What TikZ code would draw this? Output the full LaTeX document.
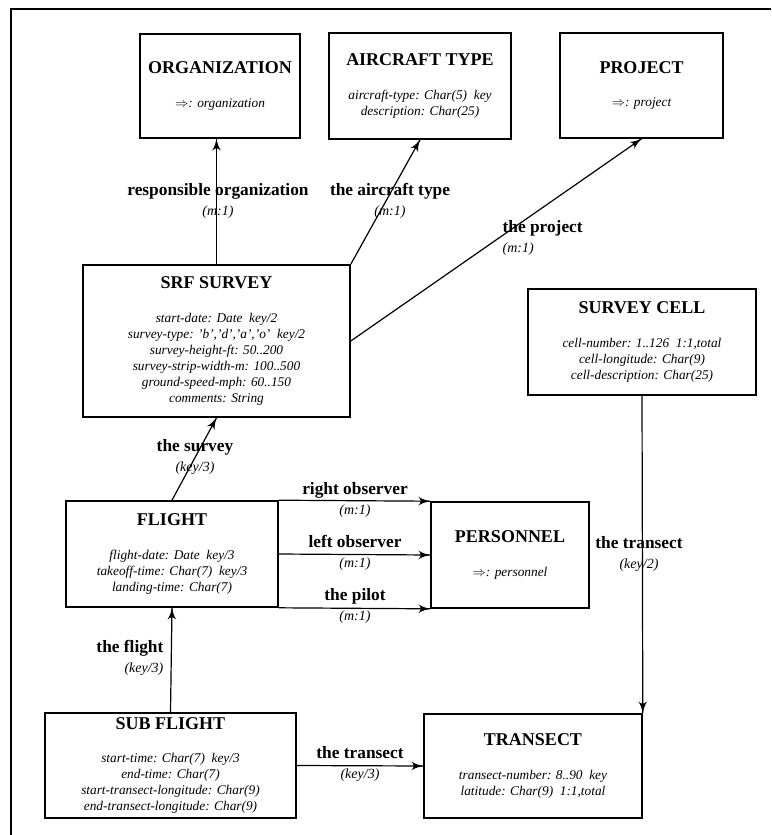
\documentclass[tikz,border=0pt]{standalone}
\usepackage{fontspec}
\setmainfont{Liberation Serif}
\usepackage{amssymb}
\usepackage{tikz}
\usetikzlibrary{arrows}
\usetikzlibrary{decorations.markings}
\newcommand{\enttitle}{\fontsize{13.5}{15}\selectfont\bfseries\upshape}
\newcommand{\entattr}{\fontsize{10}{12}\selectfont\itshape}
\newcommand{\rellabel}{\fontsize{13}{15}\selectfont\bfseries}
\newcommand{\relcard}{\fontsize{10.5}{12}\selectfont\itshape\mdseries}
\tikzset{->/.style = {decoration={markings,
                                  mark=at position 1 with {\arrow[scale=1.6]{latex'}}},
                      postaction={decorate}}}
\tikzset{entity/.style = {draw, line width=1.2pt, align=center, inner sep=0, font=\entattr}}
\tikzset{rel/.style = {align=center, inner sep=0, font=\rellabel}}

\begin{document}
\begin{tikzpicture}[x=0.75pt, y=-0.75pt, line width=0.9pt]
      \useasboundingbox (0, 0) rectangle (771, 835);
      \draw [line width=1.5pt] (771, 9) -- (11, 9) -- (11, 835);
      \node [entity, minimum width=120pt, minimum height=78pt] (org) at (220, 86) {{\enttitle ORGANIZATION}\\[13pt]$\Rightarrow$: organization};
      \node [entity, minimum width=136.5pt, minimum height=79.5pt] (air) at (420, 86) {{\enttitle AIRCRAFT TYPE}\\[13pt]aircraft-type: Char(5)~~key\\description: Char(25)};
      \node [entity, minimum width=122.25pt, minimum height=78.75pt] (proj) at (641.5, 85.5) {{\enttitle PROJECT}\\[13pt]$\Rightarrow$: project};
      \node [entity, minimum width=200.25pt, minimum height=114pt] (srf) at (216.5, 341) {{\enttitle SRF SURVEY}\\[13pt]start-date: Date~~key/2\\survey-type: 'b','d','a','o'~~key/2\\survey-height-ft: 50..200\\survey-strip-width-m: 100..500\\ground-speed-mph: 60..150\\comments: String};
      \node [entity, minimum width=171pt, minimum height=79.5pt] (cell) at (642, 342) {{\enttitle SURVEY CELL}\\[13pt]cell-number: 1..126~~1:1,total\\cell-longitude: Char(9)\\cell-description: Char(25)};
      \node [entity, minimum width=159pt, minimum height=79.5pt] (flight) at (172, 554) {{\enttitle FLIGHT}\\[13pt]flight-date: Date~~key/3\\takeoff-time: Char(7)~~key/3\\landing-time: Char(7)};
      \node [entity, minimum width=118.5pt, minimum height=79.5pt] (pers) at (510, 555) {{\enttitle PERSONNEL}\\[13pt]$\Rightarrow$: personnel};
      \node [entity, minimum width=188.25pt, minimum height=78.75pt] (sub) at (170.5, 765.5) {{\enttitle SUB FLIGHT}\\[13pt]start-time: Char(7)~~key/3\\end-time: Char(7)\\start-transect-longitude: Char(9)\\end-transect-longitude: Char(9)};
      \node [entity, minimum width=163.5pt, minimum height=78pt] (tran) at (533, 766) {{\enttitle TRANSECT}\\[13pt]transect-number: 8..90~~key\\latitude: Char(9)~~1:1,total};
      % relationships
      \draw [->] (srf.north) -- (srf.north |- org.south);
      \draw [->] (srf.north east) -- (air.south);
      \draw [->] (srf.east) -- (proj.south);
      \draw [->] (flight.north) -- (srf.south);
      \draw [->] (flight.north east) -- (pers.north west);
      \draw [->] (flight.east) -- (pers.west);
      \draw [->] (flight.south east) -- (pers.south west);
      \draw [->] (sub.north) -- (flight.south);
      \draw [->] (sub.east) -- (tran.west);
      \draw [->] (cell.south) -- (tran.north east);
      \node [rel] (l1) at (218, 201) {responsible organization\\{\relcard (m:1)}};
      \node [rel] (l2) at (390, 201) {the aircraft type\\{\relcard (m:1)}};
      \node [rel, align=left, anchor=west] (l3) at (502, 238) {the project\\{\relcard (m:1)}};
      \node [rel] (l4) at (195, 457) {the survey\\{\relcard (key/3)}};
      \node [rel] (l5) at (355, 500) {right observer\\{\relcard (m:1)}};
      \node [rel] (l6) at (355, 553) {left observer\\{\relcard (m:1)}};
      \node [rel] (l7) at (355, 606) {the pilot\\{\relcard (m:1)}};
      \node [rel] (l8) at (639, 554) {the transect\\{\relcard (key/2)}};
      \node [rel, align=right, anchor=east] (l9) at (164, 658) {the flight\\{\relcard (key/3)}};
      \node [rel] (l10) at (360, 764) {the transect\\{\relcard (key/3)}};
    \end{tikzpicture}
\end{document}
